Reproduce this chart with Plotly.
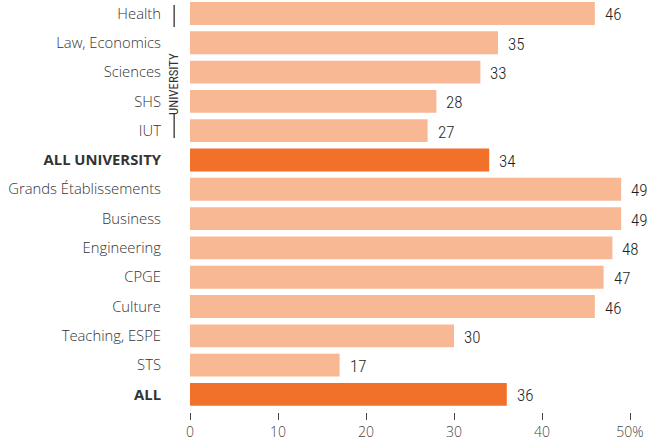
import plotly.graph_objects as go

categories = ["Health", "Law, Economics", "Sciences", "SHS", "IUT", "ALL UNIVERSITY",
              "Grands Établissements", "Business", "Engineering", "CPGE", "Culture",
              "Teaching, ESPE", "STS", "ALL"]
values = [46, 35, 33, 28, 27, 34, 49, 49, 48, 47, 46, 30, 17, 36]
is_total = [False, False, False, False, False, True, False, False, False, False, False, False, False, True]
x_ticks = [0, 10, 20, 30, 40, 50]
x_tick_labels = ["0", "10", "20", "30", "40", "50%"]
group_label = "UNIVERSITY"

LIGHT = "#F9B894"
DARK = "#F2712A"
colors = [DARK if t else LIGHT for t in is_total]
tick_text = [f"<b>{c}</b>" if t else c for c, t in zip(categories, is_total)]

fig = go.Figure()
fig.add_trace(go.Bar(
    x=values, y=categories, orientation="h",
    marker=dict(color=colors, line=dict(width=0)),
    width=0.78, hoverinfo="skip",
))

cond = "Roboto Condensed, sans-serif"
for v, c in zip(values, categories):
    fig.add_annotation(x=v, y=c, text=str(v), showarrow=False, xanchor="left",
                       xshift=8, yshift=-1,
                       font=dict(family=cond, size=17, color="#1e1e1e", weight=300))

# university bracket
fig.add_annotation(x=-0.036, xref="paper", y=2.4, yref="y", text=group_label,
                   textangle=-90, showarrow=False, xanchor="center", yanchor="middle",
                   font=dict(family=cond, size=12.8, color="#333333", weight=400))
fig.add_shape(type="line", xref="paper", yref="y", x0=-0.036, x1=-0.036, y0=-0.29, y1=0.46,
              line=dict(color="#333333", width=1.3))
fig.add_shape(type="line", xref="paper", yref="y", x0=-0.036, x1=-0.036, y0=3.4, y1=4.25,
              line=dict(color="#333333", width=1.3))

fig.update_layout(
    width=648, height=440,
    margin=dict(l=190, r=18, t=0, b=28, autoexpand=False),
    paper_bgcolor="white", plot_bgcolor="white",
    showlegend=False,
    font=dict(family="Open Sans, Noto Sans, sans-serif", size=13, color="#444444"),
    xaxis=dict(range=[0, 50], tickvals=x_ticks, ticktext=x_tick_labels,
               showgrid=False, zeroline=False, showline=False,
               ticks="outside", ticklen=7, tickwidth=1, tickcolor="#444444",
               tickfont=dict(size=14, color="#444444", weight=300), fixedrange=True),
    yaxis=dict(categoryorder="array", categoryarray=categories,
               tickvals=categories, ticktext=tick_text,
               range=[13.6, -0.46], showgrid=False, zeroline=False, showline=False,
               ticks="", ticklabelstandoff=28,
               tickfont=dict(size=14.8, color="#333333", weight=300), fixedrange=True),
)

fig.write_html("out.html", config={"displayModeBar": False},
               post_script="document.body.style.margin='0px';")
